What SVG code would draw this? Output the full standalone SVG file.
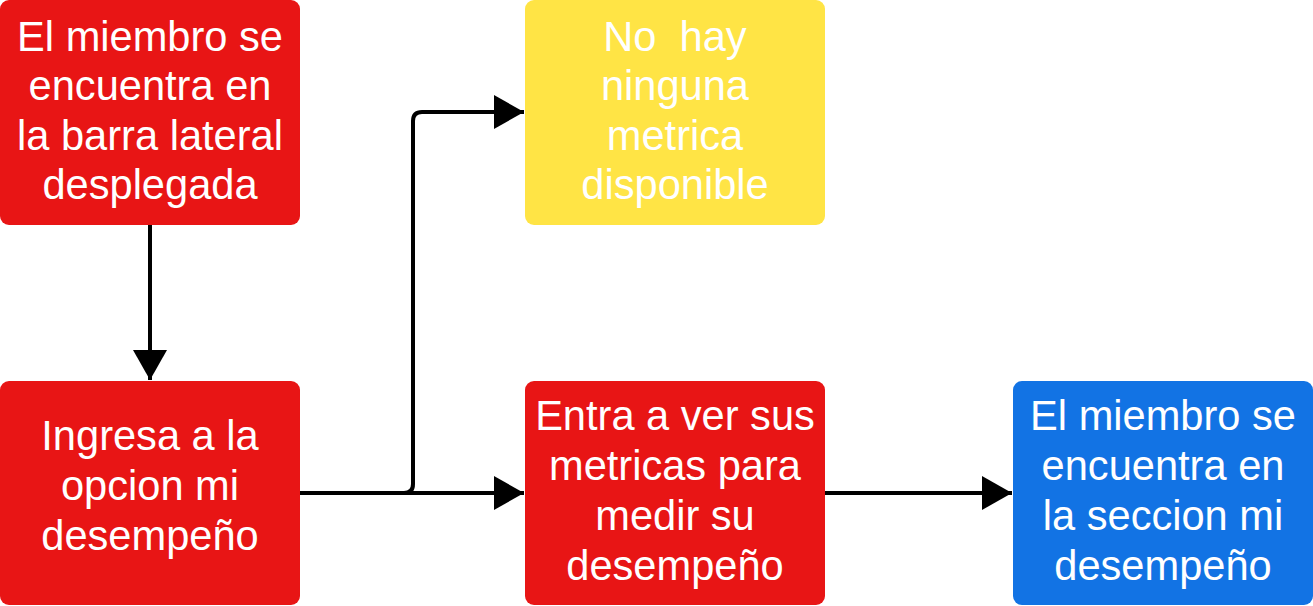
<svg xmlns="http://www.w3.org/2000/svg" width="1313" height="606" viewBox="0 0 1313 606">
<style>
.box{stroke:none}
.red{fill:#E81515}
.yellow{fill:#FFE445}
.blue{fill:#1273E4}
text{font-family:"Liberation Sans",Arial,sans-serif;font-size:41.6px;fill:#FFFFFF;text-anchor:middle;white-space:pre}
.edge{fill:none;stroke:#000000;stroke-width:4}
</style>
<defs>
<marker id="arr" markerUnits="userSpaceOnUse" markerWidth="32" markerHeight="36" refX="30" refY="17" orient="auto">
<path d="M0,0 L30,17 L0,34 Z" fill="#000000"/>
</marker>
</defs>
<rect width="1313" height="606" fill="#FFFFFF"/>
<g id="connectors">
<path class="edge" d="M150,225 L150,380" marker-end="url(#arr)"/>
<path class="edge" d="M300,493 L524,493" marker-end="url(#arr)"/>
<path class="edge" d="M300,493 L404,493 Q413,493 413,484 L413,121 Q413,112 422,112 L524,112" marker-end="url(#arr)"/>
<path class="edge" d="M825,493 L1012,493" marker-end="url(#arr)"/>
</g>
<g id="node1">
<rect class="box red" x="0" y="0" width="300" height="225" rx="9"/>
<text x="150" y="51">El miembro se</text>
<text x="150" y="100">encuentra en</text>
<text x="150" y="150">la barra lateral</text>
<text x="150" y="199">desplegada</text>
</g>
<g id="node2">
<rect class="box red" x="0" y="381" width="300" height="224" rx="9"/>
<text x="150" y="450">Ingresa a la</text>
<text x="150" y="500">opcion mi</text>
<text x="150" y="550">desempeño</text>
</g>
<g id="node3">
<rect class="box yellow" x="525" y="0" width="300" height="225" rx="9"/>
<text x="675" y="51">No  hay</text>
<text x="675" y="100">ninguna</text>
<text x="675" y="150">metrica</text>
<text x="675" y="199">disponible</text>
</g>
<g id="node4">
<rect class="box red" x="525" y="381" width="300" height="224" rx="9"/>
<text x="675" y="430">Entra a ver sus</text>
<text x="675" y="480">metricas para</text>
<text x="675" y="530">medir su</text>
<text x="675" y="580">desempeño</text>
</g>
<g id="node5">
<rect class="box blue" x="1013" y="381" width="300" height="224" rx="9"/>
<text x="1163" y="430">El miembro se</text>
<text x="1163" y="480">encuentra en</text>
<text x="1163" y="530">la seccion mi</text>
<text x="1163" y="580">desempeño</text>
</g>
</svg>
